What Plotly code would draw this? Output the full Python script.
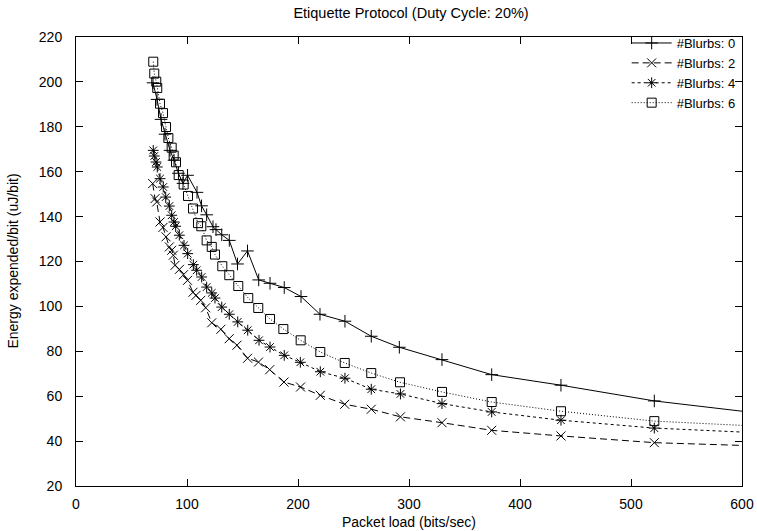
import plotly.graph_objects as go

# Blurbs 0 (+, solid)
x_b0 = [69.4, 73.0, 76.6, 80.2, 84.7, 88.3, 92.3, 96.4, 100.5, 109.0, 113.1, 117.7, 123.4, 126.1,
        131.3, 138.1, 145.5, 154.5, 164.6, 174.8, 187.6, 202.7, 219.8, 242.3, 266.0, 291.3,
        329.7, 374.5, 436.9, 521.0, 650.0]
y_b0 = [199.6, 192.2, 183.3, 176.7, 169.5, 165.1, 159.3, 154.8, 158.4, 150.8, 144.8, 140.8, 135.5, 134.2,
        131.9, 129.4, 118.9, 124.7, 111.8, 110.3, 108.4, 104.4, 96.5, 93.4, 86.7, 81.8,
        76.3, 69.6, 64.9, 57.9, 50.4]

# Blurbs 2 (x, dashed)
x_b2 = [69.1, 71.2, 72.7, 75.7, 78.4, 81.1, 84.1, 86.2, 87.7, 89.2, 93.2, 96.8, 100.5, 105.4, 108.1,
        112.4, 116.8, 122.3, 130.5, 138.0, 145.0, 154.6, 164.4, 174.5, 187.4, 202.3, 220.1,
        242.1, 266.0, 292.3, 329.7, 374.5, 436.9, 521.0, 650.0]
y_b2 = [154.7, 148.0, 146.5, 137.6, 135.2, 131.0, 126.5, 125.0, 122.8, 118.3, 116.5, 114.1, 111.6, 106.3, 104.9,
        102.7, 99.4, 92.7, 89.8, 85.6, 82.7, 76.9, 75.2, 71.8, 66.3, 64.1, 60.4,
        56.4, 54.2, 50.8, 48.2, 44.8, 42.3, 39.3, 37.3]

# Blurbs 4 (*, short dashes)
x_b4 = [69.6, 70.5, 72.1, 73.2, 75.7, 78.6, 80.8, 84.1, 86.2, 88.3, 89.8, 93.1, 97.3, 100.6, 105.7,
        108.7, 113.2, 117.7, 122.3, 125.2, 131.3, 138.1, 145.7, 154.7, 164.9, 174.8, 187.6,
        202.1, 220.1, 242.3, 266.0, 292.3, 329.7, 374.5, 436.9, 521.0, 650.0]
y_b4 = [169.5, 167.0, 164.3, 162.1, 156.9, 153.2, 148.7, 144.7, 140.6, 137.6, 135.7, 131.7, 127.2, 123.5, 118.6,
        116.1, 113.1, 108.6, 106.0, 103.7, 99.7, 96.5, 93.1, 89.4, 84.9, 81.9, 78.2,
        75.1, 70.9, 68.0, 63.1, 61.0, 56.7, 53.0, 49.3, 45.8, 42.9]

# Blurbs 6 (squares, dotted)
x_b6 = [69.6, 70.5, 72.3, 73.2, 75.7, 78.4, 81.1, 83.2, 86.2, 88.0, 90.1, 92.5, 97.0, 100.9, 105.4,
        109.9, 112.9, 117.7, 122.3, 125.2, 131.8, 138.1, 146.2, 155.2, 164.2, 174.8, 186.8,
        202.4, 220.1, 242.1, 266.0, 291.9, 329.7, 374.5, 436.9, 521.0, 650.0]
y_b6 = [209.0, 203.7, 200.1, 197.3, 190.3, 186.1, 179.9, 175.0, 170.7, 167.2, 164.2, 158.5, 154.3, 149.2, 143.6,
        137.1, 135.7, 129.4, 126.5, 123.1, 117.9, 113.9, 109.1, 103.7, 99.3, 94.4, 89.9,
        84.9, 79.7, 74.8, 70.3, 66.2, 61.9, 57.4, 53.3, 48.9, 45.8]

series_names = ["#Blurbs: 0", "#Blurbs: 2", "#Blurbs: 4", "#Blurbs: 6"]
x_title = "Packet load (bits/sec)"
y_title = "Energy expended/bit (uJ/bit)"
chart_title = "Etiquette Protocol (Duty Cycle: 20%)"

series = [
    (series_names[0], x_b0, y_b0, "solid", "cross-thin"),
    (series_names[1], x_b2, y_b2, "7px,4px", "x-thin"),
    (series_names[2], x_b4, y_b4, "3px,3px", "asterisk"),
    (series_names[3], x_b6, y_b6, "1px,2px", "square-open"),
]

FONT = "Liberation Sans, Arial, Helvetica, sans-serif"

fig = go.Figure()
for name, xs, ys, dash, sym in series:
    fig.add_trace(go.Scatter(
        x=xs, y=ys, name=name, mode="lines+markers",
        line=dict(color="black", width=1, dash=dash),
        marker=dict(symbol=sym, size=9, color="black",
                    line=dict(color="black", width=1)),
    ))

fig.update_layout(
    width=757, height=531,
    paper_bgcolor="white", plot_bgcolor="white",
    margin=dict(l=76, r=15, t=37, b=45, autoexpand=False),
    font=dict(family=FONT, size=14, color="black"),
    title=dict(text=chart_title, x=0.543, xanchor="center",
               y=0.9755, yanchor="middle", font=dict(size=14.5)),
    legend=dict(x=0.998, xanchor="right", y=1.02, yanchor="top",
                bgcolor="rgba(0,0,0,0)", borderwidth=0, font=dict(size=13),
                itemwidth=40, tracegroupgap=0),
    showlegend=True,
    annotations=[
        dict(text=y_title, xref="paper", yref="paper", x=-0.096, y=0.5,
             xanchor="center", yanchor="middle", textangle=-90, showarrow=False,
             font=dict(size=14)),
        dict(text=x_title, xref="paper", yref="paper", x=0.5, y=-0.081,
             xanchor="center", yanchor="middle", showarrow=False,
             font=dict(size=14)),
    ],
)
fig.update_xaxes(
    range=[0, 600], tickmode="linear", tick0=0, dtick=100, automargin=False,
    ticks="inside", ticklen=7, tickcolor="black", mirror="ticks",
    showline=True, linecolor="black", linewidth=1, showgrid=False, zeroline=False,
    ticklabelstandoff=5,
)
fig.update_yaxes(
    range=[20, 220], tickmode="linear", tick0=20, dtick=20, automargin=False,
    ticks="inside", ticklen=7, tickcolor="black", mirror="ticks",
    showline=True, linecolor="black", linewidth=1, showgrid=False, zeroline=False,
    ticklabelstandoff=10,
)

fig.write_html("out.html", config={"displayModeBar": False},
               post_script="document.body.style.margin='0px';")
